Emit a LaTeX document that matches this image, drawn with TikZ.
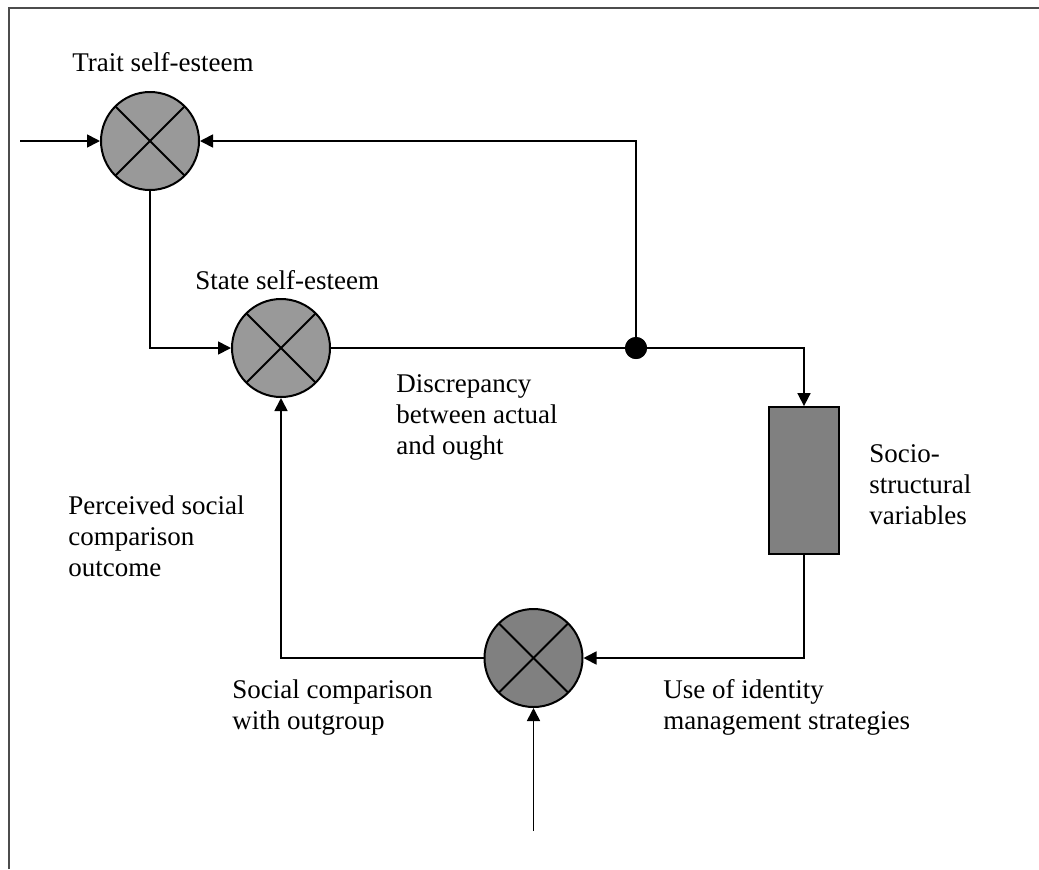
\documentclass[tikz,border=0pt]{standalone}
\usepackage{fontspec}
\setmainfont{Liberation Serif}
\usetikzlibrary{arrows.meta}
\begin{document}
\begin{tikzpicture}[x=0.5pt,y=-0.5pt,
  conn/.style={line width=0.85pt,-{Triangle[length=6.5pt,width=6.5pt]}},
  plain/.style={line width=0.85pt},
  junction/.style={circle,draw=black,line width=1pt,minimum size=49pt,inner sep=0pt,
    path picture={\draw[line width=1pt] (path picture bounding box.north west) ++(7.2pt,-7.2pt) -- ++(34.6pt,-34.6pt);
                  \draw[line width=1pt] (path picture bounding box.north east) ++(-7.2pt,-7.2pt) -- ++(-34.6pt,-34.6pt);}},
  lightj/.style={junction,fill=black!40},
  darkj/.style={junction,fill=black!50},
  block/.style={rectangle,draw=black,line width=0.9pt,fill=black!50,minimum width=35pt,minimum height=73.5pt,inner sep=0pt},
  lbl/.style={anchor=base west,inner sep=0pt,align=left,font=\fontsize{13.5pt}{15.5pt}\selectfont}
]
\useasboundingbox (0,0) rectangle (1039,869);
\draw[line width=1.2pt,black!70] (9,869) -- (9,8) -- (1039,8);

\node[lightj] (trait) at (150,141) {};
\node[lightj] (state) at (281,348) {};
\node[darkj] (comp) at (533.5,658) {};
\node[block] (socio) at (804,480.5) {};
\coordinate (in1) at (20,141);
\coordinate (in2) at (533.5,831);
\node[circle,fill=black,minimum size=11pt,inner sep=0pt] (dot) at (636,348) {};

\draw[conn] (in1) -- (trait.west);
\draw[conn] (trait.south) |- (state.west);
\draw[plain] (state.east) -- (dot.center);
\draw[conn] (dot.center) |- (trait.east);
\draw[conn] (dot.center) -| (socio.north);
\draw[conn] (socio.south) |- (comp.east);
\draw[conn] (comp.west) -| (state.south);
\draw[conn] (in2) -- (comp.south);
\node[circle,fill=black,minimum size=11pt,inner sep=0pt] at (dot) {};

\node[lbl] (ltrait) at (72,71) {Trait self-esteem};
\node[lbl] (lstate) at (195,289) {State self-esteem};
\node[lbl] (ldisc) at (396,454) {Discrepancy\\between actual\\and ought};
\node[lbl] (lperc) at (68,576) {Perceived social\\comparison\\outcome};
\node[lbl] (lsocio) at (869,524) {Socio-\\structural\\variables};
\node[lbl] (lsoc) at (232,729) {Social comparison\\with outgroup};
\node[lbl] (luse) at (663,729) {Use of identity\\management strategies};
\end{tikzpicture}
\end{document}
